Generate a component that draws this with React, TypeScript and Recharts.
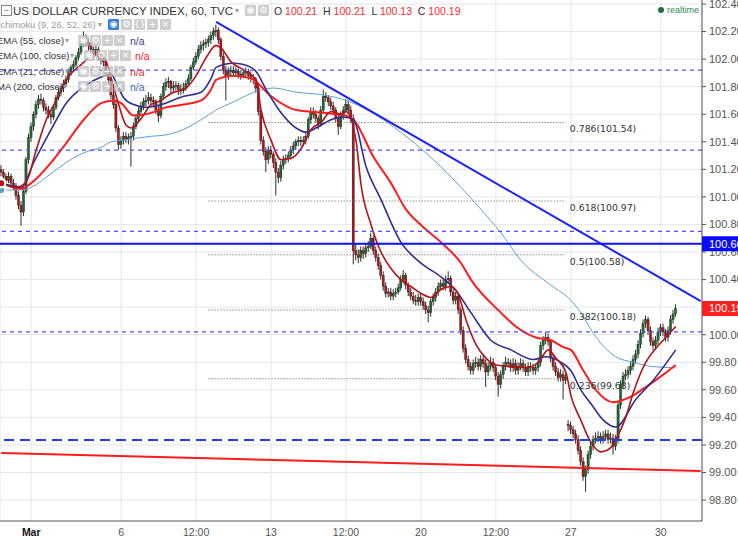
import React from 'react';
import { ComposedChart, Bar, Line, XAxis, YAxis, CartesianGrid, ReferenceLine } from 'recharts';

// 2-hour candles: [open, high, low, close]
const candles: number[][] = [
[101.20,101.23,101.15,101.18],[101.18,101.20,101.12,101.15],[101.15,101.17,101.09,101.12],[101.12,101.18,101.10,101.15],[101.15,101.17,101.07,101.10],
[101.10,101.13,101.05,101.08],[101.08,101.10,100.98,101.01],[101.01,101.04,100.91,100.94],[100.94,100.97,100.79,100.89],[100.89,101.06,100.86,101.04],
[101.04,101.29,101.02,101.27],[101.27,101.46,101.24,101.43],[101.43,101.54,101.40,101.51],[101.51,101.62,101.48,101.60],[101.60,101.70,101.57,101.67],
[101.67,101.74,101.64,101.71],[101.71,101.75,101.67,101.70],[101.70,101.72,101.62,101.65],[101.65,101.68,101.60,101.63],[101.63,101.66,101.57,101.60],
[101.60,101.63,101.53,101.58],[101.58,101.67,101.56,101.65],[101.65,101.74,101.63,101.72],[101.72,101.79,101.70,101.76],[101.76,101.81,101.73,101.79],
[101.79,101.85,101.76,101.82],[101.82,101.88,101.80,101.85],[101.85,101.93,101.83,101.91],[101.91,101.96,101.88,101.94],[101.94,101.99,101.91,101.96],
[101.96,102.03,101.94,102.01],[102.01,102.08,101.99,102.05],[102.05,102.14,102.03,102.11],[102.11,102.20,102.09,102.15],[102.15,102.18,102.09,102.12],
[102.12,102.15,102.06,102.10],[102.10,102.12,102.04,102.07],[102.07,102.09,102.01,102.04],[102.04,102.10,102.02,102.07],[102.07,102.09,101.99,102.02],
[102.02,102.05,101.96,101.99],[101.99,102.03,101.95,101.98],[101.98,102.00,101.89,101.92],[101.92,101.95,101.82,101.85],[101.85,101.88,101.71,101.74],
[101.74,101.78,101.64,101.67],[101.67,101.70,101.47,101.50],[101.50,101.52,101.34,101.38],[101.38,101.44,101.35,101.41],[101.41,101.47,101.38,101.44],
[101.44,101.47,101.39,101.42],[101.42,101.46,101.38,101.43],[101.43,101.47,101.22,101.44],[101.44,101.54,101.41,101.51],[101.51,101.60,101.49,101.57],
[101.57,101.65,101.54,101.62],[101.62,101.69,101.59,101.66],[101.66,101.72,101.63,101.69],[101.69,101.74,101.66,101.70],[101.70,101.76,101.67,101.72],
[101.72,101.75,101.67,101.70],[101.70,101.73,101.65,101.69],[101.69,101.71,101.60,101.63],[101.63,101.66,101.54,101.59],[101.59,101.75,101.57,101.73],
[101.73,101.83,101.71,101.80],[101.80,101.86,101.77,101.83],[101.83,101.87,101.79,101.84],[101.84,101.85,101.75,101.79],[101.79,101.84,101.76,101.80],
[101.80,101.84,101.77,101.81],[101.81,101.83,101.74,101.78],[101.78,101.82,101.74,101.77],[101.77,101.83,101.75,101.79],[101.79,101.85,101.77,101.82],
[101.82,101.89,101.80,101.86],[101.86,101.96,101.84,101.94],[101.94,102.01,101.92,101.98],[101.98,102.05,101.96,102.02],[102.02,102.10,102.00,102.07],
[102.07,102.13,102.04,102.10],[102.10,102.14,102.06,102.11],[102.11,102.15,102.08,102.12],[102.12,102.17,102.09,102.14],[102.14,102.20,102.11,102.17],
[102.17,102.23,102.14,102.20],[102.20,102.25,102.16,102.21],[102.21,102.23,102.11,102.14],[102.14,102.16,101.99,102.02],[102.02,102.05,101.89,101.92],
[101.92,101.95,101.70,101.88],[101.88,101.94,101.85,101.91],[101.91,101.95,101.88,101.92],[101.92,101.95,101.88,101.90],[101.90,101.94,101.87,101.91],
[101.91,101.93,101.86,101.89],[101.89,101.92,101.85,101.88],[101.88,101.93,101.86,101.90],[101.90,101.94,101.87,101.91],[101.91,101.93,101.85,101.88],
[101.88,101.91,101.83,101.86],[101.86,101.89,101.82,101.85],[101.85,101.87,101.76,101.79],[101.79,101.81,101.59,101.62],[101.62,101.64,101.38,101.41],
[101.41,101.44,101.30,101.33],[101.33,101.36,101.18,101.27],[101.27,101.37,101.24,101.34],[101.34,101.37,101.28,101.31],[101.31,101.33,101.21,101.25],
[101.25,101.28,101.01,101.18],[101.18,101.21,101.10,101.14],[101.14,101.26,101.11,101.23],[101.23,101.30,101.20,101.27],[101.27,101.31,101.24,101.28],
[101.28,101.33,101.25,101.30],[101.30,101.37,101.27,101.34],[101.34,101.40,101.31,101.37],[101.37,101.42,101.34,101.40],[101.40,101.44,101.37,101.41],
[101.41,101.44,101.37,101.40],[101.40,101.44,101.37,101.41],[101.41,101.47,101.38,101.44],[101.44,101.58,101.42,101.56],[101.56,101.65,101.53,101.62],
[101.62,101.65,101.57,101.60],[101.60,101.63,101.54,101.57],[101.57,101.59,101.49,101.53],[101.53,101.66,101.51,101.63],[101.63,101.78,101.61,101.73],
[101.73,101.76,101.69,101.72],[101.72,101.74,101.66,101.69],[101.69,101.72,101.63,101.66],[101.66,101.69,101.60,101.63],[101.63,101.65,101.54,101.57],
[101.57,101.60,101.45,101.51],[101.51,101.62,101.49,101.59],[101.59,101.66,101.56,101.63],[101.63,101.71,101.61,101.67],[101.67,101.70,101.60,101.63],
[101.63,101.66,101.54,101.57],[101.57,101.60,100.51,100.61],[100.61,100.66,100.54,100.58],[100.58,100.62,100.52,100.56],[100.56,100.64,100.53,100.61],
[100.61,100.64,100.55,100.59],[100.59,100.66,100.56,100.63],[100.63,100.68,100.60,100.64],[100.64,100.74,100.62,100.70],[100.70,100.72,100.58,100.61],
[100.61,100.64,100.53,100.56],[100.56,100.59,100.47,100.50],[100.50,100.53,100.40,100.43],[100.43,100.46,100.32,100.35],[100.35,100.38,100.27,100.30],
[100.30,100.34,100.27,100.31],[100.31,100.34,100.25,100.28],[100.28,100.33,100.25,100.30],[100.30,100.34,100.27,100.31],[100.31,100.37,100.29,100.34],
[100.34,100.43,100.32,100.40],[100.40,100.47,100.37,100.43],[100.43,100.45,100.33,100.36],[100.36,100.38,100.28,100.31],[100.31,100.34,100.25,100.28],
[100.28,100.31,100.22,100.25],[100.25,100.29,100.21,100.24],[100.24,100.30,100.21,100.27],[100.27,100.30,100.21,100.24],[100.24,100.27,100.18,100.21],
[100.21,100.24,100.15,100.18],[100.18,100.21,100.09,100.16],[100.16,100.26,100.13,100.24],[100.24,100.30,100.21,100.27],[100.27,100.34,100.24,100.31],
[100.31,100.38,100.28,100.35],[100.35,100.40,100.32,100.37],[100.37,100.40,100.32,100.35],[100.35,100.43,100.32,100.40],[100.40,100.46,100.37,100.41],
[100.41,100.43,100.28,100.31],[100.31,100.34,100.22,100.25],[100.25,100.31,100.22,100.28],[100.28,100.30,100.15,100.18],[100.18,100.20,100.00,100.03],
[100.03,100.06,99.87,99.90],[99.90,99.93,99.79,99.82],[99.82,99.85,99.74,99.77],[99.77,99.80,99.71,99.74],[99.74,99.82,99.71,99.79],
[99.79,99.84,99.76,99.80],[99.80,99.83,99.74,99.77],[99.77,99.85,99.74,99.82],[99.82,99.85,99.76,99.79],[99.79,99.82,99.62,99.73],
[99.73,99.80,99.70,99.77],[99.77,99.84,99.74,99.80],[99.80,99.83,99.73,99.76],[99.76,99.79,99.67,99.70],[99.70,99.73,99.55,99.64],
[99.64,99.74,99.61,99.71],[99.71,99.80,99.68,99.77],[99.77,99.84,99.74,99.80],[99.80,99.83,99.76,99.79],[99.79,99.82,99.73,99.76],
[99.76,99.83,99.73,99.79],[99.79,99.82,99.71,99.74],[99.74,99.80,99.71,99.77],[99.77,99.83,99.74,99.79],[99.79,99.82,99.73,99.76],
[99.76,99.79,99.70,99.73],[99.73,99.80,99.70,99.77],[99.77,99.80,99.73,99.76],[99.76,99.79,99.71,99.74],[99.74,99.79,99.71,99.76],
[99.76,99.83,99.73,99.80],[99.80,99.95,99.77,99.92],[99.92,99.99,99.89,99.96],[99.96,100.02,99.93,99.98],[99.98,100.01,99.92,99.95],
[99.95,99.97,99.80,99.83],[99.83,99.86,99.74,99.77],[99.77,99.80,99.70,99.73],[99.73,99.76,99.66,99.69],[99.69,99.75,99.66,99.71],
[99.71,99.74,99.53,99.67],[99.67,99.72,99.64,99.69],[99.35,99.38,99.30,99.34],[99.34,99.37,99.28,99.31],[99.31,99.34,99.25,99.28],
[99.28,99.31,99.21,99.24],[99.24,99.27,99.13,99.16],[99.16,99.19,99.05,99.08],[99.08,99.11,98.94,98.97],[98.97,99.05,98.86,99.02],
[99.02,99.16,98.99,99.13],[99.13,99.22,99.10,99.19],[99.19,99.27,99.16,99.24],[99.24,99.29,99.21,99.25],[99.25,99.30,99.22,99.26],
[99.26,99.29,99.21,99.24],[99.24,99.30,99.21,99.26],[99.26,99.31,99.23,99.28],[99.28,99.31,99.21,99.24],[99.24,99.29,99.21,99.25],
[99.25,99.28,99.13,99.19],[99.19,99.27,99.16,99.24],[99.24,99.52,99.21,99.49],[99.49,99.67,99.46,99.64],[99.64,99.73,99.61,99.70],
[99.70,99.75,99.67,99.71],[99.71,99.77,99.68,99.74],[99.74,99.80,99.71,99.77],[99.77,99.85,99.74,99.82],[99.82,99.89,99.79,99.86],
[99.86,99.96,99.83,99.93],[99.93,100.04,99.90,100.01],[100.01,100.11,99.98,100.08],[100.08,100.14,100.05,100.11],[100.11,100.13,100.00,100.03],
[100.03,100.06,99.92,99.95],[99.95,99.98,99.89,99.92],[99.92,99.99,99.89,99.96],[99.96,100.05,99.93,100.02],[100.02,100.08,99.99,100.05],
[100.05,100.08,99.99,100.02],[100.02,100.04,99.95,99.98],[99.98,100.06,99.95,100.03],[100.03,100.14,100.00,100.11],[100.11,100.18,100.08,100.15],
[100.15,100.22,100.13,100.19]
];

// moving averages read at sparse slots: [slot, value]
const ema21Pts: number[][] = [
[0,101.10],[6,101.07],[10,101.11],[14,101.34],[18,101.56],[22,101.70],[26,101.85],[32,101.96],[38,102.04],[42,101.98],[44,101.86],[47,101.67],[50,101.52],[52,101.50],[56,101.57],[60,101.67],[64,101.70],[68,101.75],[74,101.79],[78,101.88],[82,102.01],[86,102.10],[88,102.08],[92,101.98],[98,101.91],[102,101.85],[104,101.63],[108,101.41],[112,101.27],[116,101.28],[120,101.35],[124,101.49],[128,101.54],[132,101.62],[136,101.60],[138,101.62],[142,101.41],[144,101.09],[148,100.80],[152,100.60],[156,100.48],[160,100.40],[164,100.35],[168,100.30],[172,100.27],[176,100.33],[180,100.35],[183,100.29],[186,100.11],[190,99.93],[194,99.83],[198,99.78],[204,99.77],[210,99.76],[215,99.80],[219,99.89],[222,99.83],[226,99.73],[228,99.56],[232,99.38],[236,99.22],[240,99.15],[244,99.18],[246,99.24],[250,99.40],[253,99.58],[258,99.80],[262,99.90],[266,99.98],[270,100.06]
];
const ema55Pts: number[][] = [
[0,101.10],[8,101.07],[13,101.25],[20,101.49],[26,101.68],[33,101.80],[40,101.87],[44,101.89],[46,101.83],[49,101.72],[53,101.67],[58,101.65],[64,101.67],[73,101.73],[80,101.76],[84,101.86],[86,101.94],[93,101.97],[100,101.94],[102,101.91],[106,101.78],[112,101.61],[118,101.50],[122,101.47],[126,101.50],[132,101.56],[137,101.58],[141,101.56],[146,101.22],[152,100.98],[160,100.67],[168,100.52],[176,100.42],[182,100.32],[188,100.16],[196,99.96],[204,99.89],[213,99.82],[218,99.84],[224,99.80],[228,99.74],[232,99.60],[236,99.50],[241,99.38],[246,99.33],[254,99.53],[261,99.67],[270,99.89]
];
const ema100Pts: number[][] = [
[0,101.10],[8,101.06],[12,101.10],[20,101.25],[26,101.39],[33,101.56],[40,101.68],[45,101.70],[48,101.68],[53,101.59],[60,101.61],[66,101.65],[73,101.67],[80,101.70],[84,101.78],[86,101.85],[93,101.88],[100,101.86],[108,101.73],[118,101.63],[129,101.61],[138,101.59],[141,101.56],[149,101.29],[156,101.10],[162,100.91],[169,100.78],[176,100.67],[184,100.52],[188,100.40],[200,100.16],[206,100.06],[214,99.98],[220,99.96],[225,99.91],[228,99.89],[233,99.74],[238,99.60],[245,99.51],[252,99.55],[258,99.62],[265,99.71],[270,99.78]
];
const ma200Pts: number[][] = [
[0,101.05],[8,101.05],[12,101.07],[20,101.17],[26,101.25],[33,101.32],[40,101.36],[44,101.40],[48,101.41],[60,101.44],[66,101.45],[73,101.49],[80,101.56],[86,101.63],[93,101.69],[100,101.75],[109,101.79],[118,101.76],[129,101.74],[138,101.70],[153,101.56],[162,101.44],[173,101.27],[184,101.07],[192,100.91],[200,100.74],[208,100.54],[220,100.36],[228,100.25],[232,100.16],[237,100.01],[246,99.84],[253,99.80],[260,99.77],[270,99.76]
];

const slotCount = 281;
const xTickSlots = [12, 48, 78, 108, 138, 168, 198, 228, 264];
const xTickLabels = ['Mar', '6', '12:00', '13', '12:00', '20', '12:00', '27', '30'];
const yTicks = [98.8, 99.0, 99.2, 99.4, 99.6, 99.8, 100.0, 100.2, 100.4, 100.6, 100.8, 101.0, 101.2, 101.4, 101.6, 101.8, 102.0, 102.2, 102.4];
const yDomain = [98.648, 102.429];

const dashedLevels = [101.92, 101.34, 100.75, 100.02];
const supportLevel = 99.235;
const resistanceLevel = 100.66;
const lastPrice = 100.19;
const tagValues = [resistanceLevel, lastPrice];
const tagColors = ['#0a0aff', '#ff1f1f'];
const fibRatios = ['0.786', '0.618', '0.5', '0.382', '0.236'];
const fibValues = [101.54, 100.97, 100.58, 100.18, 99.68];
const fibSlots = [83, 226];
const downTrend = [{ x: 86, y: 102.27 }, { x: 280, y: 100.243 }];
const lowerTrend = [{ x: 0, y: 99.142 }, { x: 280, y: 99.011 }];

const rows: any[] = Array.from({ length: slotCount }, (_, i) => {
  const c = candles[i];
  const r: any = { i };
  if (c) { r.o = c[0]; r.h = c[1]; r.l = c[2]; r.c = c[3]; r.range = [c[2], c[1]]; }
  return r;
});
const attach = (pts: number[][], key: string) => { pts.forEach(([s, v]) => { rows[s][key] = v; }); };
attach(ema21Pts, 'ema21');
attach(ema55Pts, 'ema55');
attach(ema100Pts, 'ema100');
attach(ma200Pts, 'ma200');

const FONT = 'Liberation Sans, Arial, sans-serif';

const Candle = (props: any) => {
  const { x, y, width, height } = props;
  const p = props.payload || props;
  if (p == null || p.o == null || !isFinite(y) || !isFinite(height)) return null;
  const top = Math.min(y, y + height);
  const hgt = Math.abs(height);
  const span = p.h - p.l || 1e-9;
  const k = hgt / span;
  const yOf = (v: number) => top + (p.h - v) * k;
  const cx = x + width / 2;
  const bt = yOf(Math.max(p.o, p.c));
  const bb = yOf(Math.min(p.o, p.c));
  const up = p.c >= p.o;
  return (
    <g>
      <line x1={cx} x2={cx} y1={top} y2={top + hgt} stroke="#151515" strokeWidth={0.9} />
      <rect x={cx - 1.1} y={bt} width={2.2} height={Math.max(0.8, bb - bt)} fill={up ? '#1c6a2a' : '#b31616'} stroke="#151515" strokeWidth={0.35} />
    </g>
  );
};

const XTick = (props: any) => {
  const { x, y, payload } = props;
  const idx = xTickSlots.indexOf(payload.value);
  const label = idx >= 0 ? xTickLabels[idx] : '';
  const bold = label === 'Mar';
  return (
    <text x={x} y={y} dy={7} textAnchor="middle" fontSize={10.5} fontFamily={FONT} fill={bold ? '#111' : '#555'} fontWeight={bold ? 'bold' : 'normal'}>{label}</text>
  );
};

const YTick = (props: any) => {
  const { x, y, payload } = props;
  const v = Number(payload.value);
  const t = tagValues.findIndex((tv) => Math.abs(tv - v) < 1e-6);
  if (t >= 0) {
    return (
      <g>
        <rect x={x - 7} y={y - 7.5} width={40} height={15} fill={tagColors[t]} />
        <text x={x} y={y} dy="0.355em" fill="#fff" fontSize={11} fontFamily={FONT}>{v.toFixed(2)}</text>
      </g>
    );
  }
  return <text x={x} y={y} dy="0.355em" fill="#555" fontSize={11} fontFamily={FONT}>{v.toFixed(2)}</text>;
};

const FibLabel = (props: any) => {
  const vb = props.viewBox || {};
  const x = (vb.x ?? 0) + (vb.width ?? 0);
  const y = vb.y ?? 0;
  return (
    <text x={x + 4} y={y + 10} fill="#333" fontSize={9.3} fontFamily="DejaVu Sans, Verdana, sans-serif">{props.fibText}</text>
  );
};

const IconBox = ({ left, top, glyph, bg }: any) => (
  <div style={{ position: 'absolute', left, top, width: 11, height: 11, background: bg || 'rgba(190,190,190,0.75)', borderRadius: 1, color: '#fff', fontSize: 9, lineHeight: '11px', textAlign: 'center', fontFamily: 'DejaVu Sans, sans-serif' }}>{glyph}</div>
);

const legendRows = [
  { name: 'EMA (55, close)', top: 33, arrow: 65, boxes: 78, na: 130, color: '#3b3ba3' },
  { name: 'EMA (100, close)', top: 48, arrow: 70, boxes: 84, na: 135, color: '#ff2424' },
  { name: 'EMA (21, close)', top: 64, arrow: 65, boxes: 78, na: 130, color: '#e02a2a' },
  { name: 'MA (200, close)', top: 79, arrow: 63, boxes: 78, na: 130, color: '#3b6fae' },
];

export default function App() {
  return (
    <div style={{ position: 'absolute', left: 0, top: 0, width: 738, height: 539, background: '#fff', overflow: 'hidden' }}>
      <ComposedChart width={738} height={539} data={rows} margin={{ top: 0, right: 0, bottom: 0, left: 0 }} style={{ fontFamily: FONT }}>
        <CartesianGrid stroke="#e6e6e6" strokeWidth={1} horizontalValues={yTicks} />
        <XAxis dataKey="i" type="category" ticks={xTickSlots} interval={0} tick={<XTick />} tickLine={false} axisLine={{ stroke: '#555' }} height={18} />
        <YAxis orientation="right" type="number" domain={yDomain} ticks={[...yTicks, ...tagValues]} allowDataOverflow interval={0} width={36} tickSize={4} tickMargin={3}
          axisLine={{ stroke: '#555' }} tickLine={{ stroke: '#555' }} tick={<YTick />} />
        <Bar dataKey="range" barSize={2} shape={<Candle />} isAnimationActive={false} />
        <Line dataKey="ma200" type="monotone" stroke="#5f9fd0" strokeWidth={1} dot={false} connectNulls isAnimationActive={false} />
        <Line dataKey="ema100" type="monotone" stroke="#ff1c1c" strokeWidth={2} dot={false} connectNulls isAnimationActive={false} />
        <Line dataKey="ema55" type="monotone" stroke="#2e2e92" strokeWidth={1.6} dot={false} connectNulls isAnimationActive={false} />
        <Line dataKey="ema21" type="monotone" stroke="#b3121a" strokeWidth={1.6} dot={false} connectNulls isAnimationActive={false} />
        {dashedLevels.map((v) => (
          <ReferenceLine key={'d' + v} y={v} stroke="#4d4dff" strokeWidth={1.2} strokeDasharray="4 4" />
        ))}
        <ReferenceLine y={supportLevel} stroke="#1f3cff" strokeWidth={2} strokeDasharray="10 6" />
        {fibValues.map((v, k) => (
          <ReferenceLine key={'f' + v} segment={[{ x: fibSlots[0], y: v }, { x: fibSlots[1], y: v }]} stroke="#555" strokeWidth={1} strokeDasharray="1 2"
            label={<FibLabel fibText={`${fibRatios[k]}(${v.toFixed(2)})`} />} />
        ))}
        <ReferenceLine segment={lowerTrend} stroke="#ff1c1c" strokeWidth={2} />
        <ReferenceLine segment={downTrend} stroke="#1a22ff" strokeWidth={2} />
        <ReferenceLine y={resistanceLevel} stroke="#1010ff" strokeWidth={2} />
      </ComposedChart>

      {/* header */}
      <div style={{ position: 'absolute', left: 1, top: 5, width: 9, height: 9, border: '1px solid #888', fontSize: 9, lineHeight: '8px', textAlign: 'center', color: '#666', fontFamily: FONT }}>−</div>
      <div style={{ position: 'absolute', left: 13, top: 3, fontSize: 11.5, lineHeight: '16px', color: '#333', fontFamily: FONT, whiteSpace: 'nowrap' }}>US DOLLAR CURRENCY INDEX, 60, TVC</div>
      <div style={{ position: 'absolute', left: 235, top: 3, fontSize: 8, lineHeight: '16px', color: '#999', fontFamily: 'DejaVu Sans' }}>▾</div>
      <IconBox left={245} top={5} glyph="◉" />
      <IconBox left={258} top={5} glyph="⚙" />
      <div style={{ position: 'absolute', left: 274, top: 3, fontSize: 10.5, lineHeight: '16px', color: '#333', fontFamily: FONT, whiteSpace: 'pre' }}>
        O <span style={{ color: '#ff2a2a' }}>100.21</span>  H <span style={{ color: '#ff2a2a' }}>100.21</span>  L <span style={{ color: '#ff2a2a' }}>100.13</span>  C <span style={{ color: '#ff2a2a' }}>100.19</span>
      </div>
      <div style={{ position: 'absolute', left: 658, top: 7, width: 6, height: 6, borderRadius: 3, background: '#1e6e44' }} />
      <div style={{ position: 'absolute', left: 667, top: 3, fontSize: 9, lineHeight: '14px', color: '#2e8a5c', fontFamily: FONT }}>realtime</div>

      {/* indicator legend */}
      <div style={{ position: 'absolute', left: -2, top: 17, fontSize: 9.3, lineHeight: '16px', color: '#9a9a9a', fontFamily: FONT, whiteSpace: 'nowrap' }}>Ichimoku (9, 26, 52, 26)</div>
      <div style={{ position: 'absolute', left: 98, top: 17, fontSize: 8, lineHeight: '16px', color: '#999', fontFamily: 'DejaVu Sans' }}>▾</div>
      <IconBox left={108} top={19} glyph="◉" bg="#3d7fe0" />
      <IconBox left={121} top={19} glyph="⚙" />
      <IconBox left={134} top={19} glyph="{}" />
      <IconBox left={147} top={19} glyph="+" />
      <IconBox left={160} top={19} glyph="×" />
      {legendRows.map((r) => (
        <React.Fragment key={r.name}>
          <div style={{ position: 'absolute', left: -3, top: r.top, fontSize: 9.5, lineHeight: '16px', color: '#333', fontFamily: FONT, whiteSpace: 'nowrap' }}>{r.name}</div>
          <div style={{ position: 'absolute', left: r.arrow, top: r.top, fontSize: 8, lineHeight: '16px', color: '#999', fontFamily: 'DejaVu Sans' }}>▾</div>
          <IconBox left={r.boxes} top={r.top + 2} glyph="◉" />
          <IconBox left={r.boxes + 12} top={r.top + 2} glyph="⚙" />
          <IconBox left={r.boxes + 24} top={r.top + 2} glyph="+" />
          <IconBox left={r.boxes + 36} top={r.top + 2} glyph="×" />
          <div style={{ position: 'absolute', left: r.na, top: r.top, fontSize: 10.5, lineHeight: '16px', color: r.color, fontFamily: FONT }}>n/a</div>
        </React.Fragment>
      ))}
    </div>
  );
}
